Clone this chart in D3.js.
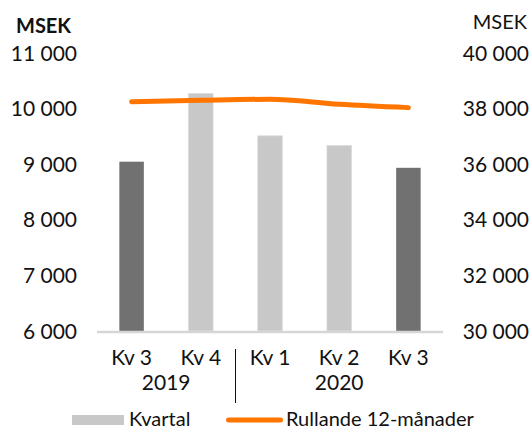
<!DOCTYPE html>
<html><head><meta charset="utf-8">
<script src="https://cdn.jsdelivr.net/npm/d3@7"></script>
<style>
html,body{margin:0;padding:0;background:#fff;}
svg{display:block;font-family:Lato, "Open Sans", sans-serif;}
</style></head>
<body>
<svg id="chart" width="531" height="430"></svg>
<script>
const categories = ["Kv 3", "Kv 4", "Kv 1", "Kv 2", "Kv 3"];
const yearLabels = ["2019", "2020"];
const quarterly = [9045, 10270, 9510, 9335, 8935];
const rolling12 = [38250, 38300, 38335, 38155, 38035];
const highlighted = [true, false, false, false, true];
const leftTicks = [6000, 7000, 8000, 9000, 10000, 11000];
const rightTicks = [30000, 32000, 34000, 36000, 38000, 40000];
const legendLabels = ["Kvartal", "Rullande 12-månader"];
const unitLabel = "MSEK";

const svg = d3.select("#chart");
const locale = d3.formatLocale({decimal: ",", thousands: " ", grouping: [3], currency: ["", ""]});
const fmt = locale.format(",d");

const x = d3.scaleBand().domain(d3.range(categories.length)).range([97, 443])
  .paddingInner(0.646).paddingOuter(0.323);
const yL = d3.scaleLinear().domain([6000, 11000]).range([331, 53]);
const yR = d3.scaleLinear().domain([30000, 40000]).range([331, 53]);

const dark = "#717171", light = "#c8c8c8", orange = "#ff7500";

// bars
svg.append("g").selectAll("rect").data(quarterly).join("rect")
  .attr("x", (d, i) => x(i))
  .attr("y", d => yL(d))
  .attr("width", x.bandwidth())
  .attr("height", d => yL(6000) - yL(d))
  .attr("fill", (d, i) => highlighted[i] ? dark : light)
  .attr("stroke", (d, i) => highlighted[i] ? "none" : "#dadada")
  .attr("stroke-width", 0.8);

// baseline
svg.append("line").attr("x1", 97).attr("x2", 443)
  .attr("y1", yL(6000) + 1).attr("y2", yL(6000) + 1)
  .attr("stroke", "#d6d6d6").attr("stroke-width", 2.6);

// left axis
const gL = svg.append("g").attr("transform", "translate(77,0)")
  .call(d3.axisLeft(yL).tickValues(leftTicks).tickFormat(fmt).tickSize(0).tickPadding(0));
gL.select(".domain").remove();
gL.selectAll("text").attr("font-size", 21).attr("font-family", "Lato").attr("fill", "#111")
  .attr("dy", "0.34em");

// right axis
const gR = svg.append("g").attr("transform", "translate(529,0)")
  .call(d3.axisLeft(yR).tickValues(rightTicks).tickFormat(fmt).tickSize(0).tickPadding(0));
gR.select(".domain").remove();
gR.selectAll("text").attr("font-size", 21).attr("font-family", "Lato").attr("fill", "#111")
  .attr("dy", "0.34em");

// units
svg.append("text").attr("x", 16).attr("y", 26).attr("dy", "0.34em")
  .attr("font-size", 20).attr("font-weight", "bold").attr("fill", "#111").text(unitLabel);
svg.append("text").attr("x", 527).attr("y", 22.5).attr("dy", "0.34em").attr("text-anchor", "end")
  .attr("font-size", 20).attr("fill", "#111").text(unitLabel);

// line
const line = d3.line().x((d, i) => x(i) + x.bandwidth() / 2).y(d => yR(d)).curve(d3.curveMonotoneX);
svg.append("path").datum(rolling12).attr("d", line)
  .attr("fill", "none").attr("stroke", orange).attr("stroke-width", 5)
  .attr("stroke-linecap", "round").attr("stroke-linejoin", "round");

// x labels
svg.append("g").selectAll("text").data(categories).join("text")
  .attr("x", (d, i) => x(i) + x.bandwidth() / 2).attr("y", 358).attr("dy", "0.34em")
  .attr("text-anchor", "middle").attr("font-size", 21).attr("fill", "#111").text(d => d);
const c = i => x(i) + x.bandwidth() / 2;
svg.append("text").attr("x", (c(0) + c(1)) / 2).attr("y", 383).attr("dy", "0.34em")
  .attr("text-anchor", "middle").attr("font-size", 21).attr("fill", "#111").text(yearLabels[0]);
svg.append("text").attr("x", c(3)).attr("y", 383).attr("dy", "0.34em")
  .attr("text-anchor", "middle").attr("font-size", 21).attr("fill", "#111").text(yearLabels[1]);
// separator
const sepX = Math.round((c(1) + c(2)) / 2) + 0.5;
svg.append("line").attr("x1", sepX).attr("x2", sepX).attr("y1", 349).attr("y2", 403)
  .attr("stroke", "#111").attr("stroke-width", 1);

// legend
svg.append("rect").attr("x", 72).attr("y", 415).attr("width", 52).attr("height", 10).attr("fill", light);
svg.append("text").attr("x", 129).attr("y", 425.5).attr("font-size", 20)
  .attr("fill", "#111").text(legendLabels[0]);
svg.append("line").attr("x1", 228.5).attr("x2", 280.5).attr("y1", 420).attr("y2", 420)
  .attr("stroke", orange).attr("stroke-width", 5).attr("stroke-linecap", "round");
svg.append("text").attr("x", 286).attr("y", 425.5).attr("font-size", 20)
  .attr("fill", "#111").text(legendLabels[1]);
</script>
</body></html>
